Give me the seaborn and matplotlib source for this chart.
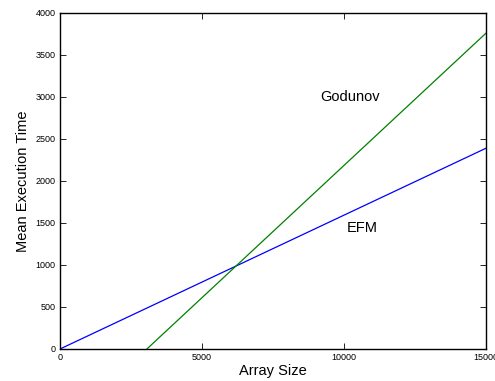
import pandas as pd
import matplotlib
matplotlib.use('Agg')
import matplotlib.pyplot as plt
import seaborn as sns

# Mean execution time vs array size
efm_size = [0, 15000]
efm_time = [0, 2390]
godunov_size = [3060, 15000]
godunov_time = [0, 3760]

x_ticks = [0, 5000, 10000, 15000]
y_ticks = [0, 500, 1000, 1500, 2000, 2500, 3000, 3500, 4000]

df = pd.concat([
    pd.DataFrame({'Array Size': efm_size, 'Mean Execution Time': efm_time, 'Scheme': 'EFM'}),
    pd.DataFrame({'Array Size': godunov_size, 'Mean Execution Time': godunov_time, 'Scheme': 'Godunov'}),
])

sns.set_style('ticks', rc={'axes.edgecolor': 'black', 'text.color': 'black',
                           'axes.labelcolor': 'black', 'xtick.color': 'black',
                           'ytick.color': 'black'})
plt.rcParams['font.family'] = ['Liberation Sans', 'DejaVu Sans']

fig = plt.figure(figsize=(4.95, 3.81), dpi=100)
ax = fig.add_axes([0.1212, 0.084, 0.8606, 0.8819])

sns.lineplot(data=df, x='Array Size', y='Mean Execution Time', hue='Scheme',
             palette={'EFM': '#0000ff', 'Godunov': '#008000'},
             linewidth=0.9, legend=False, ax=ax)

ax.set_xlim(0, 15000)
ax.set_ylim(0, 4000)
ax.set_xticks(x_ticks)
ax.set_yticks(y_ticks)
ax.tick_params(direction='in', length=4, width=0.6, labelsize=6.5,
               top=True, right=True, pad=3)
for s in ax.spines.values():
    s.set_linewidth(1.0)
    s.set_visible(True)

ax.set_xlabel('Array Size', fontsize=10.5, labelpad=1)
ax.set_ylabel('Mean Execution Time', fontsize=10.5, labelpad=4)

ax.text(10210, 3000, 'Godunov', fontsize=10.5, ha='center', va='center')
ax.text(10630, 1440, 'EFM', fontsize=10.5, ha='center', va='center')

plt.savefig('out.png', dpi=100)
plt.close()
